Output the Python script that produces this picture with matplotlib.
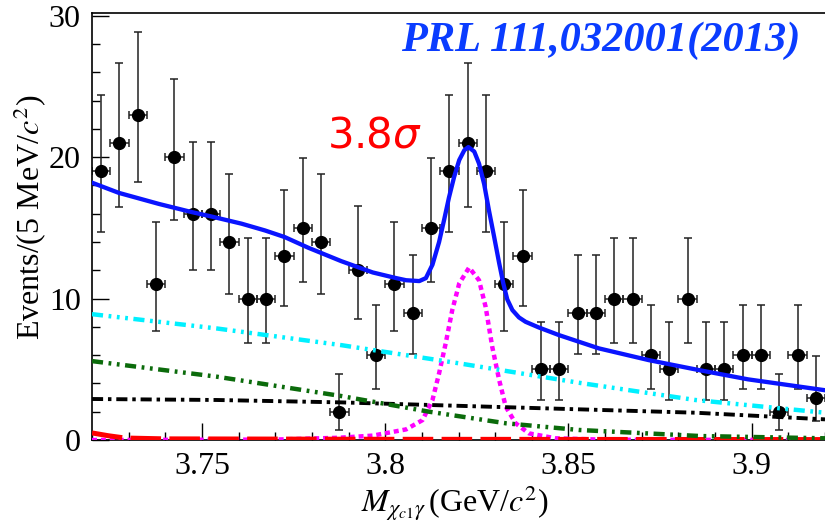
import numpy as np
import matplotlib
matplotlib.use("Agg")
import matplotlib.pyplot as plt
from matplotlib.ticker import MultipleLocator

plt.rcParams['font.family'] = ['Liberation Serif', 'DejaVu Serif']
plt.rcParams['mathtext.fontset'] = 'stix'
plt.rcParams['lines.scale_dashes'] = False

# Data: counts per 5 MeV bin, with asymmetric Poisson errors
bin_centers = np.arange(40) * 0.005 + 3.7225
counts = [19, 21, 23, 11, 20, 16, 16, 14, 10, 10,
          13, 15, 14, 2, 12, 6, 11, 9, 15, 19,
          21, 19, 11, 13, 5, 5, 9, 9, 10, 10,
          6, 5, 10, 5, 5, 6, 6, 2, 6, 3]
err_table = {2: (1.29, 2.64), 3: (1.63, 2.92), 5: (2.16, 3.38), 6: (2.38, 3.58),
             9: (2.94, 4.11), 10: (3.11, 4.27), 11: (3.26, 4.41), 12: (3.41, 4.55),
             13: (3.55, 4.69), 14: (3.69, 4.83), 15: (3.83, 4.95), 16: (3.95, 5.08),
             19: (4.32, 5.43), 20: (4.43, 5.54), 21: (4.54, 5.65), 23: (4.76, 5.86)}
err_lo = [err_table[n][0] for n in counts]
err_hi = [err_table[n][1] for n in counts]

# Fit curves
total_x = [3.7200, 3.7273, 3.7382, 3.7472, 3.7527, 3.7608, 3.7672, 3.7726, 3.7790,
           3.7880, 3.7966, 3.8030, 3.8057, 3.8093, 3.8111, 3.8129, 3.8147, 3.8161,
           3.8174, 3.8188, 3.8202, 3.8216, 3.8227, 3.8243, 3.8256, 3.8270, 3.8283,
           3.8297, 3.8311, 3.8322, 3.8333, 3.8347, 3.8365, 3.8383, 3.8419, 3.8474,
           3.8583, 3.8719, 3.8855, 3.8990, 3.9200]
total_y = [18.20, 17.48, 16.70, 16.12, 15.80, 15.30, 14.82, 14.35, 13.60,
           12.65, 11.85, 11.45, 11.30, 11.24, 11.45, 12.40, 14.00, 15.60,
           17.15, 18.60, 19.80, 20.50, 20.72, 20.40, 19.55, 18.10, 16.25,
           14.40, 12.50, 11.10, 9.95, 9.19, 8.67, 8.36, 7.96, 7.42,
           6.48, 5.65, 4.95, 4.29, 3.52]

sig_x = [3.7200, 3.7700, 3.7875, 3.7966, 3.8057, 3.8102, 3.8129, 3.8147, 3.8165,
         3.8183, 3.8202, 3.8229, 3.8256, 3.8274, 3.8292, 3.8311, 3.8329, 3.8356,
         3.8392, 3.8465, 3.8600, 3.9200]
sig_y = [0.0, 0.03, 0.16, 0.31, 0.75, 1.41, 2.83, 4.71, 6.83,
         9.19, 11.07, 12.20, 11.30, 9.42, 6.60, 4.24, 2.35, 1.18,
         0.47, 0.12, 0.02, 0.0]

cyan_x = [3.7200, 3.7540, 3.7880, 3.8202, 3.8528, 3.8846, 3.9200]
cyan_y = [8.90, 7.89, 6.71, 5.42, 4.05, 2.83, 1.93]

green_x = [3.7200, 3.7540, 3.7880, 3.8120, 3.8330, 3.8528, 3.8860, 3.9200]
green_y = [5.58, 4.48, 3.11, 2.00, 1.18, 0.71, 0.28, 0.12]

black_x = [3.7200, 3.7540, 3.7880, 3.8528, 3.8846, 3.9200]
black_y = [2.90, 2.83, 2.66, 2.17, 1.93, 1.46]

red_x = [3.7200, 3.7245, 3.7290, 3.7400, 3.8000, 3.9200]
red_y = [0.50, 0.30, 0.14, 0.08, 0.05, 0.03]

fig = plt.figure(figsize=(8.25, 5.28), dpi=100)
ax = fig.add_axes([92 / 825, 1 - 440 / 528, 1 - 92 / 825, (440 - 13) / 528])

ax.errorbar(bin_centers, counts, yerr=[err_lo, err_hi], xerr=0.0025,
            fmt='o', color='black', ecolor='#222222', elinewidth=1.1,
            capsize=2.8, capthick=1.1, markersize=8.5, zorder=2)

ax.plot(sig_x, sig_y, color='#ff00ff', lw=3.2, dashes=(3.6, 2.8), zorder=3)
ax.plot(red_x, red_y, color='#ff0000', lw=3.6, dashes=(22, 6), zorder=3)
ax.plot(black_x, black_y, color='black', lw=2.8, dashes=(8, 3.5, 2.5, 3.5), zorder=3)
ax.plot(green_x, green_y, color='#0b6b0b', lw=3.2,
        dashes=(8, 4, 2, 4, 2, 4), zorder=3)
ax.plot(cyan_x, cyan_y, color='#00f0ff', lw=3.2,
        dashes=(8, 4, 2, 4, 2, 4, 2, 4), zorder=3)
ax.plot(total_x, total_y, color='#0a14ff', lw=3.1, zorder=4,
        solid_joinstyle='round')

ax.set_xlim(3.72, 3.92)
ax.set_ylim(0, 30.2)
ax.set_xticks([3.75, 3.80, 3.85, 3.90])
ax.set_xticklabels(['3.75', '3.8', '3.85', '3.9'])
ax.set_yticks([0, 10, 20, 30])
ax.xaxis.set_minor_locator(MultipleLocator(0.01))
ax.yaxis.set_minor_locator(MultipleLocator(2))
ax.tick_params(which='both', direction='in', top=False, right=False,
               labelsize=23, width=1.0)
ax.tick_params(which='major', length=12)
ax.tick_params(which='minor', length=6)
ax.tick_params(axis='y', pad=8)
ax.tick_params(axis='x', pad=9)
for s in ['left', 'bottom', 'top']:
    ax.spines[s].set_linewidth(1.2)
ax.spines['right'].set_visible(False)

fig.text(30 / 825, 1 - 217 / 528, r'Events/(5 MeV/$c^2$)', rotation=90,
         ha='center', va='center', fontsize=23)
fig.text(455 / 825, 1 - 512 / 528, r'$M_{\chi_{c1}\gamma}\,$(GeV/$c^2$)',
         ha='center', va='baseline', fontsize=23)
fig.text(800 / 825, 1 - 51 / 528, 'PRL 111,032001(2013)', ha='right',
         va='baseline', fontsize=30.5, fontweight='bold', fontstyle='italic',
         color='#0a3cff')
fig.text(327 / 825, 1 - 148 / 528, r'3.8$\sigma$', ha='left', va='baseline',
         fontsize=30, color='#ff0000', family='DejaVu Sans',
         math_fontfamily='dejavusans')

fig.savefig('out.png', dpi=100)
